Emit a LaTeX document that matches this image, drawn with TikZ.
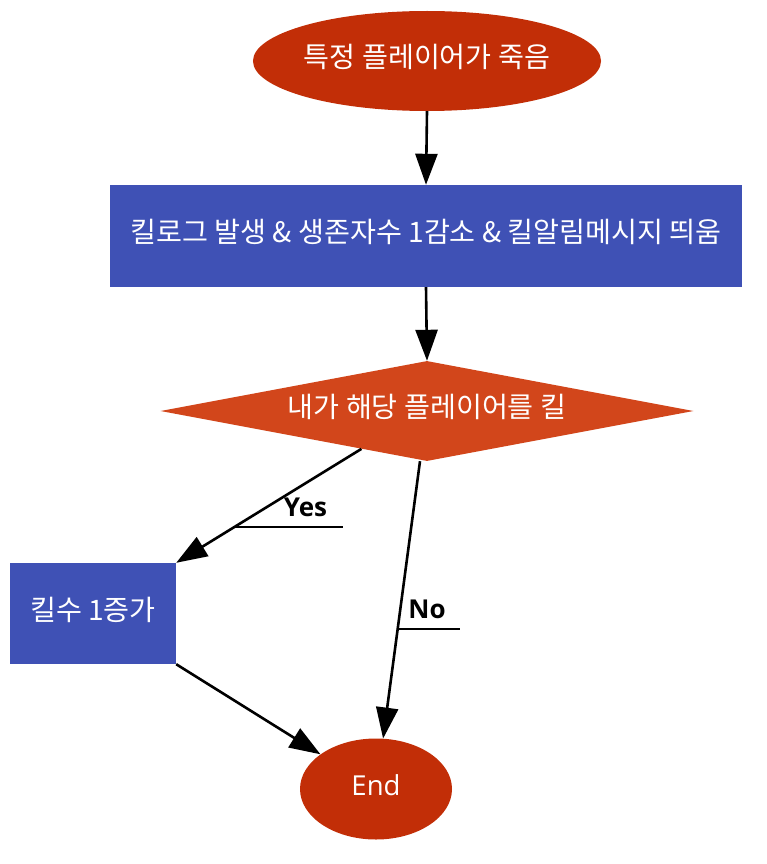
\documentclass[tikz,border=0pt]{standalone}
\usepackage{fontspec}
\setmainfont{Open Sans}
\newfontfamily\kr{Noto Sans CJK KR}
\usetikzlibrary{shapes.geometric,arrows.meta}
\definecolor{ellred}{HTML}{C22E07}
\definecolor{diaor}{HTML}{D2461B}
\definecolor{boxblue}{HTML}{3F51B5}
\newcommand\liftup[1]{\raisebox{4pt}[\height][\depth]{#1}}
\begin{document}
\begin{tikzpicture}[x=1pt,y=-1pt,
  krtext/.style={text=white, font=\kr\fontsize{28.2}{32}\selectfont},
  endshape/.style={ellipse, fill=ellred, inner sep=0pt, text=white},
  boxshape/.style={rectangle, fill=boxblue, inner sep=0pt, krtext},
  diashape/.style={diamond, aspect=5.33, fill=diaor, inner sep=0pt, krtext},
  arr/.style={line width=2.6pt, -{Triangle[length=31pt,width=22pt]}},
  lbl/.style={font=\bfseries\fontsize{26}{30}\selectfont, anchor=base, inner sep=0pt},
  uline/.style={line width=2.4pt}]
\useasboundingbox (0,0) rectangle (767,864);
\node[endshape, krtext, minimum width=342pt, minimum height=100pt] (start) at (427,61) {\liftup{특정 플레이어가 죽음}};
\node[boxshape, minimum width=632pt, minimum height=102pt] (box1) at (426,236) {\liftup{킬로그 발생 \& 생존자수 1감소 \& 킬알림메시지 띄움}};
\node[diashape, minimum width=533pt, minimum height=100pt] (dia) at (427,411) {\liftup{내가 해당 플레이어를 킬}};
\node[boxshape, minimum width=166pt, minimum height=101pt] (box2) at (93,613.5) {\liftup{킬수 1증가}};
\node[endshape, minimum width=152pt, minimum height=101pt, font=\fontsize{27.5}{30}\selectfont] (end) at (376,789) {\liftup{End}};
\draw[arr] (start.south) -- (box1.north);
\draw[arr] (box1.south) -- (dia.north);
\draw[arr] (dia.210.3) -- (box2.north east);
\draw[arr] ([xshift=-7pt]dia.south) -- (end.82);
\draw[arr] (box2.south east) -- (end.148);
\node[lbl] (yes) at (305.5,516) {Yes};
\node[lbl] (no) at (427,618) {No};
\coordinate (yesU) at (233,527);
\coordinate (yesE) at (343,527);
\coordinate (noU) at (398,629);
\coordinate (noE) at (460,629);
\draw[uline] (yesU) -- (yesE);
\draw[uline] (noU) -- (noE);
\end{tikzpicture}
\end{document}
